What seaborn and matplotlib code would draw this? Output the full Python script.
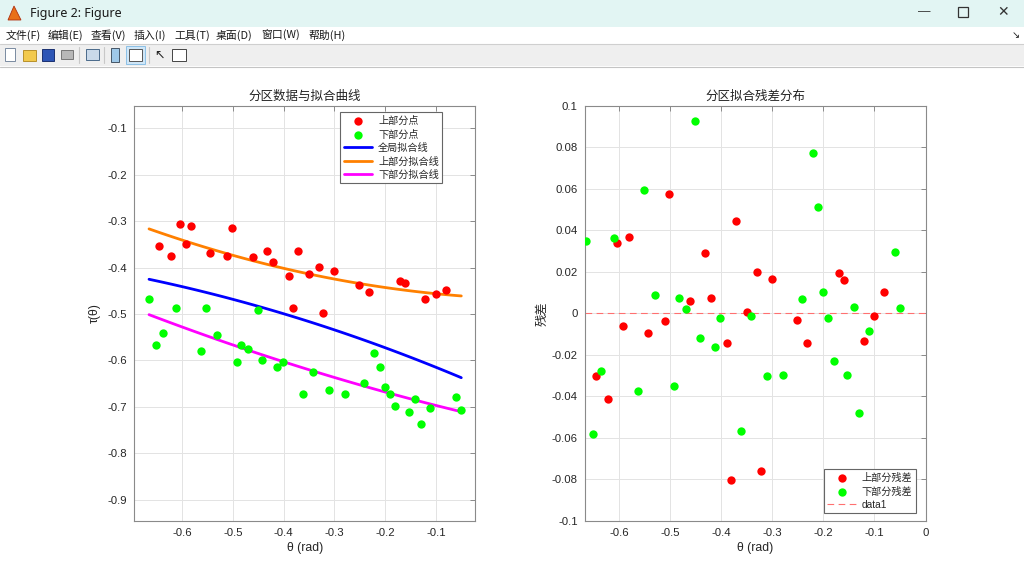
import matplotlib.pyplot as plt
import matplotlib.patches as mpatches
import numpy as np
import pandas as pd
import seaborn as sns

# upper partition points (theta, tau) and their residuals
theta_up = [-0.645, -0.622, -0.604, -0.593, -0.582, -0.544, -0.511, -0.502, -0.461, -0.432,
            -0.421, -0.390, -0.381, -0.371, -0.350, -0.331, -0.322, -0.300, -0.251, -0.232,
            -0.170, -0.160, -0.121, -0.100, -0.081]
tau_up = [-0.354, -0.374, -0.306, -0.350, -0.311, -0.369, -0.374, -0.315, -0.378, -0.364,
          -0.388, -0.418, -0.487, -0.364, -0.413, -0.398, -0.497, -0.408, -0.438, -0.453,
          -0.428, -0.433, -0.467, -0.457, -0.448]
res_up = [-0.0300, -0.0412, 0.0338, -0.0063, 0.0367, -0.0095, -0.0038, 0.0577, 0.0061, 0.0290,
          0.0074, -0.0141, -0.0803, 0.0445, 0.0008, 0.0199, -0.0760, 0.0166, -0.0031, -0.0143,
          0.0195, 0.0162, -0.0132, -0.0013, 0.0104]

# lower partition points
theta_lo = [-0.665, -0.652, -0.637, -0.611, -0.563, -0.552, -0.531, -0.492, -0.483, -0.470,
            -0.451, -0.442, -0.413, -0.402, -0.362, -0.342, -0.311, -0.280, -0.242, -0.221,
            -0.210, -0.200, -0.191, -0.180, -0.153, -0.141, -0.130, -0.111, -0.060, -0.050]
tau_lo = [-0.467, -0.566, -0.540, -0.487, -0.580, -0.487, -0.546, -0.604, -0.566, -0.576,
          -0.492, -0.599, -0.614, -0.604, -0.673, -0.625, -0.663, -0.673, -0.648, -0.585,
          -0.614, -0.658, -0.673, -0.698, -0.712, -0.683, -0.737, -0.703, -0.678, -0.707]
res_lo = [0.0349, -0.0580, -0.0276, 0.0363, -0.0375, 0.0596, 0.0089, -0.0350, 0.0074, 0.0022,
          0.0924, -0.0117, -0.0160, -0.0023, -0.0566, -0.0012, -0.0300, -0.0297, 0.0070, 0.0772,
          0.0511, 0.0101, -0.0020, -0.0230, -0.0297, 0.0029, -0.0479, -0.0083, 0.0296, 0.0028]

up = pd.DataFrame({"theta": theta_up, "tau": tau_up, "res": res_up})
lo = pd.DataFrame({"theta": theta_lo, "tau": tau_lo, "res": res_lo})
both = pd.concat([up, lo])

# quadratic fits, drawn over the full theta range
grid = np.linspace(both["theta"].min(), both["theta"].max(), 120)
fits = pd.DataFrame({
    "theta": grid,
    "global": np.polyval(np.polyfit(both["theta"], both["tau"], 2), grid),
    "upper": np.polyval(np.polyfit(up["theta"], up["tau"], 2), grid),
    "lower": np.polyval(np.polyfit(lo["theta"], lo["tau"], 2), grid),
})

sns.set_theme(style="whitegrid")
plt.rcParams["font.family"] = ["Liberation Sans", "Noto Sans CJK SC", "DejaVu Sans"]
plt.rcParams["axes.unicode_minus"] = False

W, H = 1024, 580
fig = plt.figure(figsize=(W / 100, H / 100), dpi=100, facecolor="white")


def fx(px):
    return px / W


def fy(py):
    return 1 - py / H


def box(x0, y0, x1, y1, **kw):
    fig.patches.append(mpatches.Rectangle((fx(x0), fy(y1)), fx(x1) - fx(x0), fy(y0) - fy(y1),
                                          transform=fig.transFigure, figure=fig, **kw))


# window chrome: title bar, menu bar, toolbar
box(0, 0, W, 27, facecolor="#e2f5f3", edgecolor="none")
fig.patches.append(mpatches.Polygon([[fx(8), fy(20)], [fx(14), fy(6)], [fx(21), fy(20)]],
                                    closed=True, transform=fig.transFigure, figure=fig,
                                    facecolor="#e8701a", edgecolor="#b03010", lw=0.6))
fig.text(fx(30), fy(13), "Figure 2: Figure", fontsize=9, va="center", color="#1a1a1a",
         family=["Noto Sans", "DejaVu Sans"])
fig.text(fx(924), fy(12), "—", fontsize=9, va="center", ha="center", color="#333333")
box(958, 7, 968, 17, facecolor="none", edgecolor="#333333", lw=0.9)
fig.text(fx(1003), fy(12), "✕", fontsize=10, va="center", ha="center", color="#333333",
         family="DejaVu Sans")

menus = ["文件(F)", "编辑(E)", "查看(V)", "插入(I)", "工具(T)", "桌面(D)", "窗口(W)", "帮助(H)"]
menu_x = [6, 48, 91, 134, 174, 216, 261, 308]
for label, mx in zip(menus, menu_x):
    fig.text(fx(mx), fy(35), label, fontsize=7.8, va="center", color="#1a1a1a",
             family=["Noto Sans CJK SC", "DejaVu Sans"])
fig.text(fx(1016), fy(35), "↘", fontsize=7, va="center", ha="center", color="#222222",
         family="DejaVu Sans")
box(0, 44, W, 66, facecolor="#efefef", edgecolor="none")
fig.add_artist(plt.Line2D([0, 1], [fy(44), fy(44)], color="#cfcfcf", lw=0.8))
fig.add_artist(plt.Line2D([0, 1], [fy(66.5), fy(66.5)], color="#c4c4c4", lw=0.8))
box(5, 48, 15, 61, facecolor="white", edgecolor="#7a8aa0", lw=0.7)
box(23, 50, 36, 61, facecolor="#f2c94c", edgecolor="#b8902a", lw=0.7)
box(42, 49, 54, 61, facecolor="#2d55b5", edgecolor="#1a3070", lw=0.7)
box(61, 50, 73, 59, facecolor="#b8b8b8", edgecolor="#777777", lw=0.7)
fig.add_artist(plt.Line2D([fx(79), fx(79)], [fy(47), fy(63)], color="#c8c8c8", lw=0.8))
box(86, 49, 99, 60, facecolor="#c9d9ea", edgecolor="#4a6a8a", lw=0.7)
fig.add_artist(plt.Line2D([fx(104), fx(104)], [fy(47), fy(63)], color="#c8c8c8", lw=0.8))
box(111, 48, 119, 62, facecolor="#9ec8e8", edgecolor="#445566", lw=0.7)
box(126, 46, 145, 64, facecolor="#cfe6f7", edgecolor="#8cc0e6", lw=0.7)
box(129, 49, 142, 61, facecolor="white", edgecolor="#555555", lw=0.7)
fig.add_artist(plt.Line2D([fx(149), fx(149)], [fy(47), fy(63)], color="#c8c8c8", lw=0.8))
fig.text(fx(159), fy(55), "↖", fontsize=9, va="center", ha="center", color="#222222",
         family="DejaVu Sans")
box(172, 49, 186, 61, facecolor="white", edgecolor="#444444", lw=0.7)

tick_font = 8.2
cjk = ["Noto Sans CJK SC", "DejaVu Sans"]
leg_kw = dict(prop={"size": 7.3}, handlelength=2.8, handletextpad=0.6, borderpad=0.35,
              labelspacing=0.33, fancybox=False, framealpha=1, edgecolor="#666666",
              borderaxespad=0)

ax1 = fig.add_axes([fx(134.3), fy(521), fx(475) - fx(134.3), fy(105.7) - fy(521)])
ax2 = fig.add_axes([fx(584.7), fy(521), fx(925.5) - fx(584.7), fy(105.7) - fy(521)])

# left: data and fitted curves
sns.scatterplot(data=up, x="theta", y="tau", ax=ax1, color="#ff0000", s=36, linewidth=0,
                label="上部分点", zorder=3)
sns.scatterplot(data=lo, x="theta", y="tau", ax=ax1, color="#00ff00", s=36, linewidth=0,
                label="下部分点", zorder=3)
sns.lineplot(data=fits, x="theta", y="global", ax=ax1, color="#0000ff", lw=2,
             label="全局拟合线", estimator=None, zorder=2)
sns.lineplot(data=fits, x="theta", y="upper", ax=ax1, color="#ff8000", lw=2,
             label="上部分拟合线", estimator=None, zorder=2)
sns.lineplot(data=fits, x="theta", y="lower", ax=ax1, color="#ff00ff", lw=2,
             label="下部分拟合线", estimator=None, zorder=2)
ax1.set_xlim(-0.694, -0.023)
ax1.set_ylim(-0.946, -0.051)
ax1.set_xticks([-0.6, -0.5, -0.4, -0.3, -0.2, -0.1])
ax1.set_yticks([-0.9, -0.8, -0.7, -0.6, -0.5, -0.4, -0.3, -0.2, -0.1])
ax1.set_title("分区数据与拟合曲线", fontsize=9, family=cjk, pad=4, color="#222222")
ax1.set_xlabel("θ (rad)", fontsize=8.8, color="#262626", labelpad=3)
ax1.set_ylabel("τ(θ)", fontsize=8.8, color="#262626", labelpad=5)
leg1 = ax1.legend(loc="upper right", bbox_to_anchor=(0.904, 0.984), **leg_kw)
leg1.get_frame().set_linewidth(0.8)

# right: residuals
sns.scatterplot(data=up, x="theta", y="res", ax=ax2, color="#ff0000", s=36, linewidth=0,
                label="上部分残差", zorder=3)
sns.scatterplot(data=lo, x="theta", y="res", ax=ax2, color="#00ff00", s=36, linewidth=0,
                label="下部分残差", zorder=3)
ax2.axhline(0, color="#ff7070", lw=0.8, ls=(0, (6, 4)), label="data1", zorder=2)
ax2.set_xlim(-0.668, 0)
ax2.set_ylim(-0.1, 0.1)
ax2.set_xticks([-0.6, -0.5, -0.4, -0.3, -0.2, -0.1, 0])
ax2.set_xticklabels(["-0.6", "-0.5", "-0.4", "-0.3", "-0.2", "-0.1", "0"])
ax2.set_yticks(np.round(np.arange(-0.1, 0.1001, 0.02), 2))
ax2.set_yticklabels(["-0.1", "-0.08", "-0.06", "-0.04", "-0.02", "0",
                     "0.02", "0.04", "0.06", "0.08", "0.1"])
ax2.set_title("分区拟合残差分布", fontsize=9, family=cjk, pad=4, color="#222222")
ax2.set_xlabel("θ (rad)", fontsize=8.8, color="#262626", labelpad=3)
ax2.set_ylabel("残差", fontsize=8.8, family=cjk, color="#262626", labelpad=2)
leg2 = ax2.legend(loc="lower right", bbox_to_anchor=(0.972, 0.0185), **leg_kw)
leg2.get_frame().set_linewidth(0.8)

for ax in (ax1, ax2):
    ax.set_facecolor("white")
    ax.grid(True, color="#e3e3e3", lw=0.7)
    for sp in ax.spines.values():
        sp.set_color("#8a8a8a")
        sp.set_linewidth(0.8)
    ax.tick_params(direction="in", length=3.5, width=0.7, color="#8a8a8a",
                   top=True, right=True, labelsize=tick_font, labelcolor="#262626", pad=5)

fig.savefig("out.png", dpi=100, facecolor="white")
